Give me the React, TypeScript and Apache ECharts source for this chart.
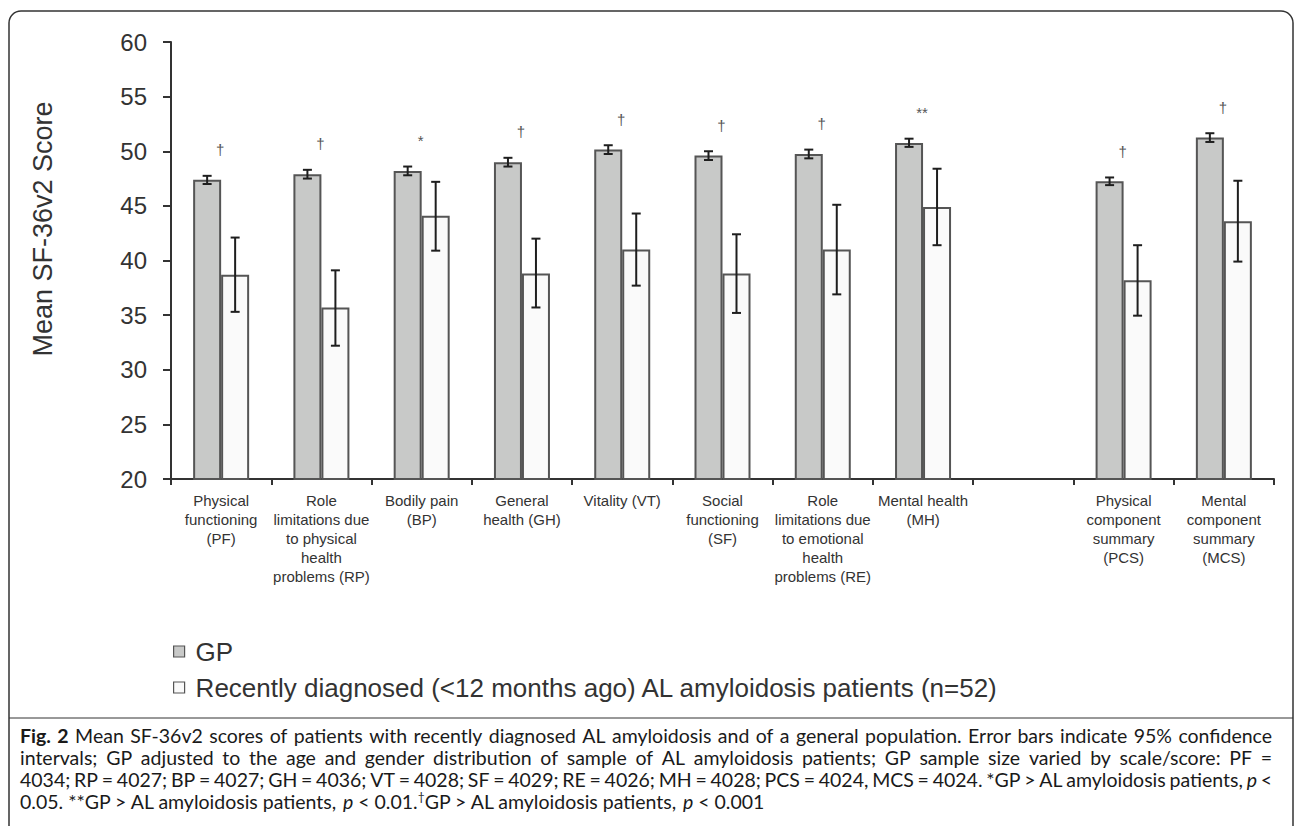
import React, { useEffect, useRef } from "react";
import * as echarts from "echarts";

const categories = [
  "Physical\nfunctioning\n(PF)",
  "Role\nlimitations due\nto physical\nhealth\nproblems (RP)",
  "Bodily pain\n(BP)",
  "General\nhealth (GH)",
  "Vitality (VT)",
  "Social\nfunctioning\n(SF)",
  "Role\nlimitations due\nto emotional\nhealth\nproblems (RE)",
  "Mental health\n(MH)",
  "",
  "Physical\ncomponent\nsummary\n(PCS)",
  "Mental\ncomponent\nsummary\n(MCS)",
];

const gpMean = [47.4, 47.9, 48.2, 49.0, 50.15, 49.6, 49.75, 50.75, null, 47.25, 51.25];
const gpLow = [47.0, 47.5, 47.8, 48.6, 49.75, 49.2, 49.35, 50.4, null, 46.9, 50.85];
const gpHigh = [47.75, 48.3, 48.6, 49.4, 50.55, 50.0, 50.15, 51.15, null, 47.6, 51.65];

const alMean = [38.7, 35.7, 44.1, 38.8, 41.0, 38.8, 41.0, 44.9, null, 38.2, 43.6];
const alLow = [35.3, 32.2, 40.9, 35.7, 37.7, 35.2, 36.9, 41.4, null, 34.95, 39.9];
const alHigh = [42.1, 39.1, 47.2, 42.0, 44.3, 42.4, 45.1, 48.4, null, 41.4, 47.3];

const sigMarks = ["†", "†", "*", "†", "†", "†", "†", "**", "", "†", "†"];

const seriesNames = [
  "GP",
  "Recently diagnosed (<12 months ago) AL amyloidosis patients (n=52)",
];

const yTitle = "Mean SF-36v2 Score";

// justified caption lines (words separated by single spaces)
const captionJustified = [
  "{b|Fig.} {b|2} Mean SF-36v2 scores of patients with recently diagnosed AL amyloidosis and of a general population. Error bars indicate 95% confidence",
  "intervals; GP adjusted to the age and gender distribution of sample of AL amyloidosis patients; GP sample size varied by scale/score: PF =",
  "4034; RP = 4027; BP = 4027; GH = 4036; VT = 4028; SF = 4029; RE = 4026; MH = 4028; PCS = 4024, MCS = 4024. *GP > AL amyloidosis patients, {i|p} <",
];
const captionLast =
  "0.05. **GP > AL amyloidosis patients, {i|p} < 0.01.{s|†}GP > AL amyloidosis patients, {i|p} < 0.001";

const FONT = "'Liberation Sans', Arial, Helvetica, sans-serif";
const CAP_FONT = "Lato, 'Open Sans', sans-serif";
const CAP_SIZE = 19.5;
const BAR_W = 28;

function errorSeries(low: (number | null)[], high: (number | null)[], offset: number) {
  const data: number[][] = [];
  low.forEach((l, i) => {
    if (l != null && high[i] != null) data.push([i, l, high[i] as number]);
  });
  return {
    type: "custom",
    z: 10,
    encode: { x: 0, y: [1, 2] },
    data,
    renderItem: (params: any, api: any) => {
      const i = api.value(0);
      const top = api.coord([i, api.value(2)]);
      const bot = api.coord([i, api.value(1)]);
      const x = top[0] + offset;
      const cap = 4.5;
      const st = { stroke: "#1e1e1e", lineWidth: 2 };
      return {
        type: "group",
        children: [
          { type: "line", shape: { x1: x, y1: top[1], x2: x, y2: bot[1] }, style: st },
          { type: "line", shape: { x1: x - cap, y1: top[1], x2: x + cap, y2: top[1] }, style: st },
          { type: "line", shape: { x1: x - cap, y1: bot[1], x2: x + cap, y2: bot[1] }, style: st },
        ],
      };
    },
  };
}

const capRich = {
  b: { fontWeight: "bold", fontFamily: CAP_FONT, fontSize: CAP_SIZE, fill: "#1a1a1a" },
  i: { fontStyle: "italic", fontFamily: CAP_FONT, fontSize: CAP_SIZE, fill: "#1a1a1a" },
  s: { fontFamily: CAP_FONT, fontSize: 12, fill: "#1a1a1a", padding: [0, 0, 9, 0] },
};

function captionGraphics(): any[] {
  const out: any[] = [];
  const canvas = document.createElement("canvas");
  const ctx = canvas.getContext("2d") as CanvasRenderingContext2D;
  const left = 20;
  const right = 1272;
  const measure = (w: string) => {
    let font = `${CAP_SIZE}px ${CAP_FONT}`;
    let t = w;
    const m = /^\{(\w)\|(.*)\}$/.exec(w);
    if (m) {
      t = m[2];
      if (m[1] === "b") font = `bold ${CAP_SIZE}px ${CAP_FONT}`;
      if (m[1] === "i") font = `italic ${CAP_SIZE}px ${CAP_FONT}`;
    }
    ctx.font = font;
    return ctx.measureText(t).width;
  };
  captionJustified.forEach((line, k) => {
    const words = line.split(" ");
    const widths = words.map(measure);
    const total = widths.reduce((a, b) => a + b, 0);
    const gap = (right - left - total) / (words.length - 1);
    let x = left;
    words.forEach((w, j) => {
      out.push({
        type: "text",
        x,
        y: 735 + k * 22,
        style: {
          text: w,
          fontFamily: CAP_FONT,
          fontSize: CAP_SIZE,
          fill: "#1a1a1a",
          align: "left",
          verticalAlign: "middle",
          rich: capRich,
        },
      });
      x += widths[j] + gap;
    });
  });
  out.push({
    type: "text",
    x: left,
    y: 735 + 3 * 22,
    style: {
      text: captionLast,
      fontFamily: CAP_FONT,
      fontSize: CAP_SIZE,
      fill: "#1a1a1a",
      align: "left",
      verticalAlign: "middle",
      rich: capRich,
    },
  });
  return out;
}

export default function App() {
  const ref = useRef<HTMLDivElement>(null);
  useEffect(() => {
    if (!ref.current) return;
    const chart = echarts.init(ref.current, null, { renderer: "svg" });

    const markData: any[] = [];
    sigMarks.forEach((m, i) => {
      if (m && gpHigh[i] != null) markData.push([i, gpHigh[i], m]);
    });

    const graphic: any[] = [
      {
        type: "rect",
        z: 0,
        shape: { x: 9, y: 11, width: 1284, height: 830, r: 12 },
        style: { fill: "none", stroke: "#333", lineWidth: 1.5 },
      },
      {
        type: "line",
        shape: { x1: 9, y1: 718, x2: 1293, y2: 718 },
        style: { stroke: "#333", lineWidth: 1 },
      },
      {
        type: "text",
        x: 43,
        y: 229,
        rotation: Math.PI / 2,
        style: {
          text: yTitle,
          fontFamily: FONT,
          fontSize: 27,
          fill: "#333",
          align: "center",
          verticalAlign: "middle",
        },
      },
      ...captionGraphics(),
    ];

    chart.setOption({
      animation: false,
      backgroundColor: "#ffffff",
      grid: { left: 171, right: 21, top: 42, bottom: 347, containLabel: false },
      legend: {
        orient: "vertical",
        left: 173,
        top: 638,
        padding: 0,
        itemWidth: 11,
        itemHeight: 11,
        itemGap: 9,
        icon: "rect",
        textStyle: {
          fontFamily: FONT,
          fontSize: 26,
          lineHeight: 27,
          color: "#333",
          padding: [0, 0, 0, 6],
        },
        data: [
          { name: seriesNames[0], itemStyle: { color: "#c8c9c8", borderColor: "#555", borderWidth: 1.2 } },
          { name: seriesNames[1], itemStyle: { color: "#fafafa", borderColor: "#555", borderWidth: 1.2 } },
        ],
      },
      xAxis: {
        type: "category",
        data: categories,
        axisLine: { show: true, lineStyle: { color: "#333", width: 2 } },
        axisTick: { show: true, length: 6, lineStyle: { color: "#333", width: 2 } },
        axisLabel: {
          interval: 0,
          margin: 12,
          fontFamily: FONT,
          fontSize: 15,
          lineHeight: 19,
          color: "#333",
          align: "center",
        },
        splitLine: { show: false },
      },
      yAxis: {
        type: "value",
        min: 20,
        max: 60,
        interval: 5,
        axisLine: { show: true, lineStyle: { color: "#333", width: 2 } },
        axisTick: { show: true, length: 8, lineStyle: { color: "#333", width: 2 } },
        axisLabel: { margin: 24, fontFamily: FONT, fontSize: 24, color: "#333" },
        splitLine: { show: false },
      },
      series: [
        {
          name: seriesNames[0],
          type: "bar",
          barWidth: BAR_W,
          barGap: "0%",
          data: gpMean.map((v) => (v == null ? "-" : v)),
          itemStyle: { color: "#c8c9c8", borderColor: "#555", borderWidth: 2 },
        },
        {
          name: seriesNames[1],
          type: "bar",
          barWidth: BAR_W,
          barGap: "0%",
          data: alMean.map((v) => (v == null ? "-" : v)),
          itemStyle: { color: "#fafafa", borderColor: "#555", borderWidth: 2 },
        },
        errorSeries(gpLow, gpHigh, -BAR_W / 2),
        errorSeries(alLow, alHigh, BAR_W / 2),
        {
          type: "custom",
          z: 11,
          encode: { x: 0, y: 1 },
          data: markData,
          renderItem: (params: any, api: any) => {
            const i = api.value(0);
            const p = api.coord([i, api.value(1)]);
            const mark = markData[params.dataIndex][2];
            return {
              type: "text",
              x: p[0] - 1,
              y: p[1] - 26,
              style: {
                text: mark,
                fontFamily: FONT,
                fontSize: 15,
                fill: "#555",
                align: "center",
                verticalAlign: "middle",
              },
            };
          },
        },
      ],
      graphic,
    });
    return () => chart.dispose();
  }, []);
  return (
    <div
      ref={ref}
      style={{ position: "absolute", left: 0, top: 0, width: 1295, height: 826, background: "#fff" }}
    />
  );
}
